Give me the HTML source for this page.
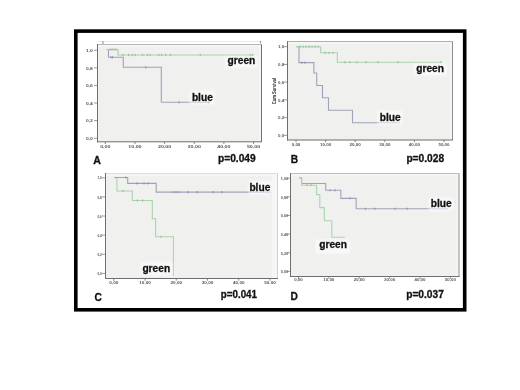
<!DOCTYPE html>
<html><head><meta charset="utf-8"><style>
html,body{margin:0;padding:0;background:#fff;}
svg{display:block;font-family:"Liberation Sans",sans-serif;will-change:transform;filter:blur(0.35px);}
</style></head><body>
<svg width="520" height="390" viewBox="0 0 520 390">
<defs><filter id="hb" x="-20%" y="-40%" width="140%" height="180%"><feGaussianBlur stdDeviation="1"/></filter></defs>
<rect width="520" height="390" fill="#fff"/>
<rect x="75.8" y="31.1" width="388.9" height="278.7" fill="#fff" stroke="#000" stroke-width="3.6"/>
<rect x="97.5" y="44.5" width="164.0" height="97.30000000000001" fill="#f0f0ef"/><rect x="97.5" y="44.5" width="164.0" height="2.5" fill="#f5f5f4"/><rect x="259.0" y="44.5" width="2.5" height="97.30000000000001" fill="#f5f5f4"/><line x1="97.5" y1="44.5" x2="261.5" y2="44.5" stroke="#b8b8b8" stroke-width="1"/><line x1="261.5" y1="44.5" x2="261.5" y2="141.8" stroke="#707070" stroke-width="1"/><line x1="97.5" y1="44.0" x2="97.5" y2="142.3" stroke="#6e6e6e" stroke-width="1"/><line x1="97.0" y1="141.8" x2="262.0" y2="141.8" stroke="#6e6e6e" stroke-width="1"/><line x1="94.0" y1="50.2" x2="97.5" y2="50.2" stroke="#6e6e6e" stroke-width="0.7"/><text transform="translate(92.9,52.04) scale(1,0.75)" font-size="5.0" font-weight="bold" text-anchor="end" fill="#555">1,0</text><line x1="94.0" y1="67.8" x2="97.5" y2="67.8" stroke="#6e6e6e" stroke-width="0.7"/><text transform="translate(92.9,69.64) scale(1,0.75)" font-size="5.0" font-weight="bold" text-anchor="end" fill="#555">0,8</text><line x1="94.0" y1="85.4" x2="97.5" y2="85.4" stroke="#6e6e6e" stroke-width="0.7"/><text transform="translate(92.9,87.24) scale(1,0.75)" font-size="5.0" font-weight="bold" text-anchor="end" fill="#555">0,6</text><line x1="94.0" y1="103.0" x2="97.5" y2="103.0" stroke="#6e6e6e" stroke-width="0.7"/><text transform="translate(92.9,104.84) scale(1,0.75)" font-size="5.0" font-weight="bold" text-anchor="end" fill="#555">0,4</text><line x1="94.0" y1="120.6" x2="97.5" y2="120.6" stroke="#6e6e6e" stroke-width="0.7"/><text transform="translate(92.9,122.44) scale(1,0.75)" font-size="5.0" font-weight="bold" text-anchor="end" fill="#555">0,2</text><line x1="94.0" y1="138.2" x2="97.5" y2="138.2" stroke="#6e6e6e" stroke-width="0.7"/><text transform="translate(92.9,140.04) scale(1,0.75)" font-size="5.0" font-weight="bold" text-anchor="end" fill="#555">0,0</text><line x1="105.3" y1="141.8" x2="105.3" y2="144.0" stroke="#6e6e6e" stroke-width="0.8"/><text transform="translate(105.3,148.23) scale(1,0.7)" font-size="5.3" font-weight="bold" text-anchor="middle" fill="#555">0,00</text><line x1="134.94" y1="141.8" x2="134.94" y2="144.0" stroke="#6e6e6e" stroke-width="0.8"/><text transform="translate(134.94,148.23) scale(1,0.7)" font-size="5.3" font-weight="bold" text-anchor="middle" fill="#555">10,00</text><line x1="164.58" y1="141.8" x2="164.58" y2="144.0" stroke="#6e6e6e" stroke-width="0.8"/><text transform="translate(164.58,148.23) scale(1,0.7)" font-size="5.3" font-weight="bold" text-anchor="middle" fill="#555">20,00</text><line x1="194.22" y1="141.8" x2="194.22" y2="144.0" stroke="#6e6e6e" stroke-width="0.8"/><text transform="translate(194.22,148.23) scale(1,0.7)" font-size="5.3" font-weight="bold" text-anchor="middle" fill="#555">30,00</text><line x1="223.86" y1="141.8" x2="223.86" y2="144.0" stroke="#6e6e6e" stroke-width="0.8"/><text transform="translate(223.86,148.23) scale(1,0.7)" font-size="5.3" font-weight="bold" text-anchor="middle" fill="#555">40,00</text><line x1="253.5" y1="141.8" x2="253.5" y2="144.0" stroke="#6e6e6e" stroke-width="0.8"/><text transform="translate(253.5,148.23) scale(1,0.7)" font-size="5.3" font-weight="bold" text-anchor="middle" fill="#555">50,00</text>
<line x1="97" y1="41.5" x2="261" y2="41.5" stroke="#ececec" stroke-width="1"/>
<line x1="103" y1="41" x2="103" y2="44" stroke="#6e6e6e" stroke-width="0.8"/><line x1="260.6" y1="41" x2="260.6" y2="43.5" stroke="#6e6e6e" stroke-width="0.8"/>
<polyline points="106,49.5 108.5,49.5 108.5,57.3 123.3,57.3 123.3,67.3 161.3,67.3 161.3,102.3 192,102.3" fill="none" stroke="#9ea3bb" stroke-width="1.1"/>
<polyline points="192,102.3 210,102.3" fill="none" stroke="#9ea3bb" stroke-width="1.1"/>
<polyline points="106,49.5 118,49.5 118,55 254,55" fill="none" stroke="#aad4ac" stroke-width="1.1"/>
<line x1="110" y1="48.4" x2="110" y2="50.6" stroke="#8cae90" stroke-width="0.8"/><line x1="112" y1="48.4" x2="112" y2="50.6" stroke="#8cae90" stroke-width="0.8"/><line x1="114" y1="48.4" x2="114" y2="50.6" stroke="#8cae90" stroke-width="0.8"/><line x1="116" y1="48.4" x2="116" y2="50.6" stroke="#8cae90" stroke-width="0.8"/>
<line x1="123" y1="53.9" x2="123" y2="56.1" stroke="#8cae90" stroke-width="0.8"/><line x1="128.8" y1="53.9" x2="128.8" y2="56.1" stroke="#8cae90" stroke-width="0.8"/><line x1="132.3" y1="53.9" x2="132.3" y2="56.1" stroke="#8cae90" stroke-width="0.8"/><line x1="135.2" y1="53.9" x2="135.2" y2="56.1" stroke="#8cae90" stroke-width="0.8"/><line x1="142.7" y1="53.9" x2="142.7" y2="56.1" stroke="#8cae90" stroke-width="0.8"/><line x1="147.3" y1="53.9" x2="147.3" y2="56.1" stroke="#8cae90" stroke-width="0.8"/><line x1="150.2" y1="53.9" x2="150.2" y2="56.1" stroke="#8cae90" stroke-width="0.8"/><line x1="158.8" y1="53.9" x2="158.8" y2="56.1" stroke="#8cae90" stroke-width="0.8"/><line x1="161.7" y1="53.9" x2="161.7" y2="56.1" stroke="#8cae90" stroke-width="0.8"/><line x1="165.7" y1="53.9" x2="165.7" y2="56.1" stroke="#8cae90" stroke-width="0.8"/><line x1="170.4" y1="53.9" x2="170.4" y2="56.1" stroke="#8cae90" stroke-width="0.8"/><line x1="200.3" y1="53.9" x2="200.3" y2="56.1" stroke="#8cae90" stroke-width="0.8"/><line x1="250.4" y1="53.9" x2="250.4" y2="56.1" stroke="#8cae90" stroke-width="0.8"/><line x1="252.7" y1="53.9" x2="252.7" y2="56.1" stroke="#8cae90" stroke-width="0.8"/>
<line x1="111" y1="56.199999999999996" x2="111" y2="58.4" stroke="#7a80a8" stroke-width="0.8"/><line x1="112.5" y1="56.199999999999996" x2="112.5" y2="58.4" stroke="#7a80a8" stroke-width="0.8"/>
<line x1="145.8" y1="66.2" x2="145.8" y2="68.39999999999999" stroke="#7a80a8" stroke-width="0.8"/>
<line x1="179" y1="101.2" x2="179" y2="103.39999999999999" stroke="#7a80a8" stroke-width="0.8"/><line x1="208.5" y1="101.2" x2="208.5" y2="103.39999999999999" stroke="#7a80a8" stroke-width="0.8"/>
<rect x="225" y="56.2" width="33" height="11.799999999999997" fill="#fff" fill-opacity="0.55" filter="url(#hb)"/>
<text x="227.6" y="64" font-size="10.2" font-weight="bold" fill="#111" stroke="#111" stroke-width="0.3">green</text>
<rect x="189.5" y="90" width="25.0" height="14.5" fill="#fff" fill-opacity="0.55" filter="url(#hb)"/>
<text x="191.9" y="101.1" font-size="10.2" font-weight="bold" fill="#111" stroke="#111" stroke-width="0.3">blue</text>
<text x="93.3" y="163.6" font-size="10.6" font-weight="bold" fill="#111" stroke="#111" stroke-width="0.3">A</text>
<text x="218" y="161.8" font-size="10.2" font-weight="bold" fill="#111" stroke="#111" stroke-width="0.3">p=0.049</text>
<rect x="287.5" y="41.5" width="165.0" height="98.5" fill="#f0f0ef"/><rect x="287.5" y="41.5" width="165.0" height="2.5" fill="#f5f5f4"/><rect x="450.0" y="41.5" width="2.5" height="98.5" fill="#f5f5f4"/><line x1="287.5" y1="41.5" x2="452.5" y2="41.5" stroke="#b0b0b0" stroke-width="1"/><line x1="452.5" y1="41.5" x2="452.5" y2="140" stroke="#8c8c8c" stroke-width="1"/><line x1="287.5" y1="41.0" x2="287.5" y2="140.5" stroke="#6e6e6e" stroke-width="1"/><line x1="287.0" y1="140" x2="453.0" y2="140" stroke="#6e6e6e" stroke-width="1"/><line x1="284.0" y1="46.7" x2="287.5" y2="46.7" stroke="#6e6e6e" stroke-width="0.7"/><text transform="translate(284.2,48.46) scale(1,0.8)" font-size="4.4" font-weight="bold" text-anchor="end" fill="#555">1,0</text><line x1="284.0" y1="64.42" x2="287.5" y2="64.42" stroke="#6e6e6e" stroke-width="0.7"/><text transform="translate(284.2,66.18) scale(1,0.8)" font-size="4.4" font-weight="bold" text-anchor="end" fill="#555">0,8</text><line x1="284.0" y1="82.14" x2="287.5" y2="82.14" stroke="#6e6e6e" stroke-width="0.7"/><text transform="translate(284.2,83.9) scale(1,0.8)" font-size="4.4" font-weight="bold" text-anchor="end" fill="#555">0,6</text><line x1="284.0" y1="99.86" x2="287.5" y2="99.86" stroke="#6e6e6e" stroke-width="0.7"/><text transform="translate(284.2,101.62) scale(1,0.8)" font-size="4.4" font-weight="bold" text-anchor="end" fill="#555">0,4</text><line x1="284.0" y1="117.58" x2="287.5" y2="117.58" stroke="#6e6e6e" stroke-width="0.7"/><text transform="translate(284.2,119.34) scale(1,0.8)" font-size="4.4" font-weight="bold" text-anchor="end" fill="#555">0,2</text><line x1="284.0" y1="135.3" x2="287.5" y2="135.3" stroke="#6e6e6e" stroke-width="0.7"/><text transform="translate(284.2,137.06) scale(1,0.8)" font-size="4.4" font-weight="bold" text-anchor="end" fill="#555">0,0</text><line x1="296.0" y1="140" x2="296.0" y2="142.2" stroke="#6e6e6e" stroke-width="0.8"/><text transform="translate(296.0,145.61) scale(1,0.78)" font-size="4.5" font-weight="bold" text-anchor="middle" fill="#555">0,00</text><line x1="325.6" y1="140" x2="325.6" y2="142.2" stroke="#6e6e6e" stroke-width="0.8"/><text transform="translate(325.6,145.61) scale(1,0.78)" font-size="4.5" font-weight="bold" text-anchor="middle" fill="#555">10,00</text><line x1="355.2" y1="140" x2="355.2" y2="142.2" stroke="#6e6e6e" stroke-width="0.8"/><text transform="translate(355.2,145.61) scale(1,0.78)" font-size="4.5" font-weight="bold" text-anchor="middle" fill="#555">20,00</text><line x1="384.8" y1="140" x2="384.8" y2="142.2" stroke="#6e6e6e" stroke-width="0.8"/><text transform="translate(384.8,145.61) scale(1,0.78)" font-size="4.5" font-weight="bold" text-anchor="middle" fill="#555">30,00</text><line x1="414.4" y1="140" x2="414.4" y2="142.2" stroke="#6e6e6e" stroke-width="0.8"/><text transform="translate(414.4,145.61) scale(1,0.78)" font-size="4.5" font-weight="bold" text-anchor="middle" fill="#555">40,00</text><line x1="444.0" y1="140" x2="444.0" y2="142.2" stroke="#6e6e6e" stroke-width="0.8"/><text transform="translate(444.0,145.61) scale(1,0.78)" font-size="4.5" font-weight="bold" text-anchor="middle" fill="#555">50,00</text>
<polyline points="296.4,46.7 299,46.7 299,62.6 313.9,62.6 313.9,73 316.7,73 316.7,85.5 322.5,85.5 322.5,97.7 328.5,97.7 328.5,110.2 352.5,110.2 352.5,122.7 400,122.7" fill="none" stroke="#9ea3bb" stroke-width="1.1"/>
<polyline points="296.4,46.7 320.7,46.7 320.7,52.8 337.3,52.8 337.3,62.2 441.8,62.2" fill="none" stroke="#aad4ac" stroke-width="1.1"/>
<line x1="300" y1="45.6" x2="300" y2="47.800000000000004" stroke="#8cae90" stroke-width="0.8"/><line x1="303" y1="45.6" x2="303" y2="47.800000000000004" stroke="#8cae90" stroke-width="0.8"/><line x1="306" y1="45.6" x2="306" y2="47.800000000000004" stroke="#8cae90" stroke-width="0.8"/><line x1="309" y1="45.6" x2="309" y2="47.800000000000004" stroke="#8cae90" stroke-width="0.8"/><line x1="312" y1="45.6" x2="312" y2="47.800000000000004" stroke="#8cae90" stroke-width="0.8"/><line x1="315" y1="45.6" x2="315" y2="47.800000000000004" stroke="#8cae90" stroke-width="0.8"/><line x1="318" y1="45.6" x2="318" y2="47.800000000000004" stroke="#8cae90" stroke-width="0.8"/>
<line x1="325" y1="51.699999999999996" x2="325" y2="53.9" stroke="#8cae90" stroke-width="0.8"/><line x1="329" y1="51.699999999999996" x2="329" y2="53.9" stroke="#8cae90" stroke-width="0.8"/><line x1="333" y1="51.699999999999996" x2="333" y2="53.9" stroke="#8cae90" stroke-width="0.8"/>
<line x1="345" y1="61.1" x2="345" y2="63.300000000000004" stroke="#8cae90" stroke-width="0.8"/><line x1="350" y1="61.1" x2="350" y2="63.300000000000004" stroke="#8cae90" stroke-width="0.8"/><line x1="357" y1="61.1" x2="357" y2="63.300000000000004" stroke="#8cae90" stroke-width="0.8"/><line x1="366" y1="61.1" x2="366" y2="63.300000000000004" stroke="#8cae90" stroke-width="0.8"/><line x1="378" y1="61.1" x2="378" y2="63.300000000000004" stroke="#8cae90" stroke-width="0.8"/><line x1="398" y1="61.1" x2="398" y2="63.300000000000004" stroke="#8cae90" stroke-width="0.8"/><line x1="441" y1="61.1" x2="441" y2="63.300000000000004" stroke="#8cae90" stroke-width="0.8"/>
<line x1="302" y1="61.5" x2="302" y2="63.7" stroke="#7a80a8" stroke-width="0.8"/><line x1="305" y1="61.5" x2="305" y2="63.7" stroke="#7a80a8" stroke-width="0.8"/>
<rect x="413.5" y="63.5" width="33.5" height="12.0" fill="#fff" fill-opacity="0.55" filter="url(#hb)"/>
<text x="416.2" y="71.5" font-size="10.2" font-weight="bold" fill="#111" stroke="#111" stroke-width="0.3">green</text>
<rect x="377.5" y="110.5" width="25.0" height="14.5" fill="#fff" fill-opacity="0.55" filter="url(#hb)"/>
<text x="379.8" y="120.8" font-size="10.2" font-weight="bold" fill="#111" stroke="#111" stroke-width="0.3">blue</text>
<text x="290.8" y="163" font-size="10.2" font-weight="bold" fill="#111" stroke="#111" stroke-width="0.3">B</text>
<text x="406.4" y="162.0" font-size="10.2" font-weight="bold" fill="#111" stroke="#111" stroke-width="0.3">p=0.028</text>
<text transform="translate(275.9,91.1) rotate(-90)" font-size="5" font-weight="bold" text-anchor="middle" fill="#222" textLength="26.5" lengthAdjust="spacingAndGlyphs">Cum Survival</text>
<rect x="272" y="174" width="5" height="104" fill="#f6f6f5"/>
<rect x="105.5" y="173.5" width="172.0" height="105.0" fill="#f0f0ef"/><rect x="105.5" y="173.5" width="172.0" height="2.5" fill="#f5f5f4"/><rect x="275.0" y="173.5" width="2.5" height="105.0" fill="#f5f5f4"/><line x1="105.5" y1="173.5" x2="277.5" y2="173.5" stroke="#dedede" stroke-width="1"/><line x1="277.5" y1="173.5" x2="277.5" y2="278.5" stroke="#d0d0d0" stroke-width="1"/><line x1="105.5" y1="173.0" x2="105.5" y2="279.0" stroke="#6e6e6e" stroke-width="1"/><line x1="105.0" y1="278.5" x2="278.0" y2="278.5" stroke="#6e6e6e" stroke-width="1"/><line x1="102.0" y1="177.8" x2="105.5" y2="177.8" stroke="#6e6e6e" stroke-width="0.7"/><text transform="translate(101.9,179.45) scale(1,1.0)" font-size="3.2" font-weight="bold" text-anchor="end" fill="#555">1,0</text><line x1="102.0" y1="196.92" x2="105.5" y2="196.92" stroke="#6e6e6e" stroke-width="0.7"/><text transform="translate(101.9,198.57) scale(1,1.0)" font-size="3.2" font-weight="bold" text-anchor="end" fill="#555">0,8</text><line x1="102.0" y1="216.04" x2="105.5" y2="216.04" stroke="#6e6e6e" stroke-width="0.7"/><text transform="translate(101.9,217.69) scale(1,1.0)" font-size="3.2" font-weight="bold" text-anchor="end" fill="#555">0,6</text><line x1="102.0" y1="235.16" x2="105.5" y2="235.16" stroke="#6e6e6e" stroke-width="0.7"/><text transform="translate(101.9,236.81) scale(1,1.0)" font-size="3.2" font-weight="bold" text-anchor="end" fill="#555">0,4</text><line x1="102.0" y1="254.28" x2="105.5" y2="254.28" stroke="#6e6e6e" stroke-width="0.7"/><text transform="translate(101.9,255.93) scale(1,1.0)" font-size="3.2" font-weight="bold" text-anchor="end" fill="#555">0,2</text><line x1="102.0" y1="273.4" x2="105.5" y2="273.4" stroke="#6e6e6e" stroke-width="0.7"/><text transform="translate(101.9,275.05) scale(1,1.0)" font-size="3.2" font-weight="bold" text-anchor="end" fill="#555">0,0</text><line x1="113.8" y1="278.5" x2="113.8" y2="280.7" stroke="#6e6e6e" stroke-width="0.8"/><text transform="translate(113.8,284.25) scale(1,0.76)" font-size="4.6" font-weight="bold" text-anchor="middle" fill="#555">0,00</text><line x1="145.04" y1="278.5" x2="145.04" y2="280.7" stroke="#6e6e6e" stroke-width="0.8"/><text transform="translate(145.04,284.25) scale(1,0.76)" font-size="4.6" font-weight="bold" text-anchor="middle" fill="#555">10,00</text><line x1="176.28" y1="278.5" x2="176.28" y2="280.7" stroke="#6e6e6e" stroke-width="0.8"/><text transform="translate(176.28,284.25) scale(1,0.76)" font-size="4.6" font-weight="bold" text-anchor="middle" fill="#555">20,00</text><line x1="207.52" y1="278.5" x2="207.52" y2="280.7" stroke="#6e6e6e" stroke-width="0.8"/><text transform="translate(207.52,284.25) scale(1,0.76)" font-size="4.6" font-weight="bold" text-anchor="middle" fill="#555">30,00</text><line x1="238.76" y1="278.5" x2="238.76" y2="280.7" stroke="#6e6e6e" stroke-width="0.8"/><text transform="translate(238.76,284.25) scale(1,0.76)" font-size="4.6" font-weight="bold" text-anchor="middle" fill="#555">40,00</text><line x1="270.0" y1="278.5" x2="270.0" y2="280.7" stroke="#6e6e6e" stroke-width="0.8"/><text transform="translate(270.0,284.25) scale(1,0.76)" font-size="4.6" font-weight="bold" text-anchor="middle" fill="#555">50,00</text>
<rect x="272" y="174.5" width="5" height="103.3" fill="#f6f6f5"/>
<polyline points="114.1,177.5 116.9,177.5 116.9,191 132.3,191 132.3,200.5 152.3,200.5 152.3,218.7 155.6,218.7 155.6,236.8 173.4,236.8 173.4,276" fill="none" stroke="#aad4ac" stroke-width="1.1"/>
<polyline points="114.1,177.5 127.7,177.5 127.7,183.4 156.2,183.4 156.2,192.1 270.8,192.1" fill="none" stroke="#9ea3bb" stroke-width="1.1"/>
<line x1="125.8" y1="176.4" x2="125.8" y2="178.6" stroke="#7a80a8" stroke-width="0.8"/>
<line x1="137" y1="182.3" x2="137" y2="184.5" stroke="#7a80a8" stroke-width="0.8"/><line x1="144" y1="182.3" x2="144" y2="184.5" stroke="#7a80a8" stroke-width="0.8"/><line x1="148" y1="182.3" x2="148" y2="184.5" stroke="#7a80a8" stroke-width="0.8"/>
<line x1="173" y1="191.0" x2="173" y2="193.2" stroke="#7a80a8" stroke-width="0.8"/><line x1="176" y1="191.0" x2="176" y2="193.2" stroke="#7a80a8" stroke-width="0.8"/><line x1="179" y1="191.0" x2="179" y2="193.2" stroke="#7a80a8" stroke-width="0.8"/><line x1="188" y1="191.0" x2="188" y2="193.2" stroke="#7a80a8" stroke-width="0.8"/><line x1="197" y1="191.0" x2="197" y2="193.2" stroke="#7a80a8" stroke-width="0.8"/><line x1="213" y1="191.0" x2="213" y2="193.2" stroke="#7a80a8" stroke-width="0.8"/><line x1="222" y1="191.0" x2="222" y2="193.2" stroke="#7a80a8" stroke-width="0.8"/>
<line x1="123" y1="189.9" x2="123" y2="192.1" stroke="#8cae90" stroke-width="0.8"/>
<line x1="137.2" y1="199.4" x2="137.2" y2="201.6" stroke="#8cae90" stroke-width="0.8"/><line x1="142.6" y1="199.4" x2="142.6" y2="201.6" stroke="#8cae90" stroke-width="0.8"/>
<line x1="161" y1="235.70000000000002" x2="161" y2="237.9" stroke="#8cae90" stroke-width="0.8"/>
<rect x="248.5" y="181" width="23.0" height="13.5" fill="#fff" fill-opacity="0.55" filter="url(#hb)"/>
<text x="249.4" y="190.8" font-size="10.2" font-weight="bold" fill="#111" stroke="#111" stroke-width="0.3">blue</text>
<rect x="140" y="262" width="32.599999999999994" height="13.5" fill="#fff" fill-opacity="0.55" filter="url(#hb)"/>
<text x="142.4" y="271.5" font-size="10.2" font-weight="bold" fill="#111" stroke="#111" stroke-width="0.3">green</text>
<text x="94.4" y="300.8" font-size="10.2" font-weight="bold" fill="#111" stroke="#111" stroke-width="0.3">C</text>
<text x="220.8" y="297.6" font-size="10.2" font-weight="bold" fill="#111" stroke="#111" stroke-width="0.3" textLength="36.2" lengthAdjust="spacingAndGlyphs">p=0.041</text>
<rect x="290.5" y="173.5" width="168.5" height="103.0" fill="#f0f0ef"/><rect x="290.5" y="173.5" width="168.5" height="2.5" fill="#f5f5f4"/><rect x="456.5" y="173.5" width="2.5" height="103.0" fill="#f5f5f4"/><line x1="290.5" y1="173.5" x2="459" y2="173.5" stroke="#c0c0c0" stroke-width="1"/><line x1="459" y1="173.5" x2="459" y2="276.5" stroke="#b0b0b0" stroke-width="1.5"/><line x1="290.5" y1="173.0" x2="290.5" y2="277.0" stroke="#6e6e6e" stroke-width="1"/><line x1="290.0" y1="276.5" x2="459.5" y2="276.5" stroke="#6e6e6e" stroke-width="1"/><line x1="287.0" y1="178.2" x2="290.5" y2="178.2" stroke="#6e6e6e" stroke-width="0.7"/><text transform="translate(288.0,180.02) scale(1,1.0)" font-size="3.7" font-weight="bold" text-anchor="end" fill="#555">1,00</text><line x1="287.0" y1="196.84" x2="290.5" y2="196.84" stroke="#6e6e6e" stroke-width="0.7"/><text transform="translate(288.0,198.66) scale(1,1.0)" font-size="3.7" font-weight="bold" text-anchor="end" fill="#555">0,80</text><line x1="287.0" y1="215.48" x2="290.5" y2="215.48" stroke="#6e6e6e" stroke-width="0.7"/><text transform="translate(288.0,217.3) scale(1,1.0)" font-size="3.7" font-weight="bold" text-anchor="end" fill="#555">0,60</text><line x1="287.0" y1="234.12" x2="290.5" y2="234.12" stroke="#6e6e6e" stroke-width="0.7"/><text transform="translate(288.0,235.94) scale(1,1.0)" font-size="3.7" font-weight="bold" text-anchor="end" fill="#555">0,40</text><line x1="287.0" y1="252.76" x2="290.5" y2="252.76" stroke="#6e6e6e" stroke-width="0.7"/><text transform="translate(288.0,254.58) scale(1,1.0)" font-size="3.7" font-weight="bold" text-anchor="end" fill="#555">0,20</text><line x1="287.0" y1="271.4" x2="290.5" y2="271.4" stroke="#6e6e6e" stroke-width="0.7"/><text transform="translate(288.0,273.22) scale(1,1.0)" font-size="3.7" font-weight="bold" text-anchor="end" fill="#555">0,00</text><line x1="298.4" y1="276.5" x2="298.4" y2="278.7" stroke="#6e6e6e" stroke-width="0.8"/><text transform="translate(298.4,281.16) scale(1,0.8)" font-size="4.4" font-weight="bold" text-anchor="middle" fill="#555">0,00</text><line x1="328.8" y1="276.5" x2="328.8" y2="278.7" stroke="#6e6e6e" stroke-width="0.8"/><text transform="translate(328.8,281.16) scale(1,0.8)" font-size="4.4" font-weight="bold" text-anchor="middle" fill="#555">10,00</text><line x1="359.2" y1="276.5" x2="359.2" y2="278.7" stroke="#6e6e6e" stroke-width="0.8"/><text transform="translate(359.2,281.16) scale(1,0.8)" font-size="4.4" font-weight="bold" text-anchor="middle" fill="#555">20,00</text><line x1="389.6" y1="276.5" x2="389.6" y2="278.7" stroke="#6e6e6e" stroke-width="0.8"/><text transform="translate(389.6,281.16) scale(1,0.8)" font-size="4.4" font-weight="bold" text-anchor="middle" fill="#555">30,00</text><line x1="420.0" y1="276.5" x2="420.0" y2="278.7" stroke="#6e6e6e" stroke-width="0.8"/><text transform="translate(420.0,281.16) scale(1,0.8)" font-size="4.4" font-weight="bold" text-anchor="middle" fill="#555">40,00</text><line x1="450.4" y1="276.5" x2="450.4" y2="278.7" stroke="#6e6e6e" stroke-width="0.8"/><text transform="translate(450.4,281.16) scale(1,0.8)" font-size="4.4" font-weight="bold" text-anchor="middle" fill="#555">50,00</text>
<polyline points="299.2,178 301.6,178 301.6,183.5 325.7,183.5 325.7,190.3 340.9,190.3 340.9,198.4 356.2,198.4 356.2,208.8 447.7,208.8" fill="none" stroke="#9ea3bb" stroke-width="1.1"/>
<polyline points="299.2,178 301.6,178 301.6,185.2 316.6,185.2 316.6,194.6 319.8,194.6 319.8,207.6 324.3,207.6 324.3,220.8 331.8,220.8 331.8,237.3 345,237.3" fill="none" stroke="#aad4ac" stroke-width="1.1"/>
<line x1="330" y1="189.20000000000002" x2="330" y2="191.4" stroke="#7a80a8" stroke-width="0.8"/><line x1="335" y1="189.20000000000002" x2="335" y2="191.4" stroke="#7a80a8" stroke-width="0.8"/>
<line x1="350" y1="197.20000000000002" x2="350" y2="199.4" stroke="#7a80a8" stroke-width="0.8"/>
<line x1="365.3" y1="207.70000000000002" x2="365.3" y2="209.9" stroke="#7a80a8" stroke-width="0.8"/><line x1="374.8" y1="207.70000000000002" x2="374.8" y2="209.9" stroke="#7a80a8" stroke-width="0.8"/><line x1="395" y1="207.70000000000002" x2="395" y2="209.9" stroke="#7a80a8" stroke-width="0.8"/><line x1="407" y1="207.70000000000002" x2="407" y2="209.9" stroke="#7a80a8" stroke-width="0.8"/>
<line x1="307" y1="183.9" x2="307" y2="186.1" stroke="#8cae90" stroke-width="0.8"/><line x1="311" y1="183.9" x2="311" y2="186.1" stroke="#8cae90" stroke-width="0.8"/>
<rect x="428.5" y="197.5" width="24.5" height="13.5" fill="#fff" fill-opacity="0.55" filter="url(#hb)"/>
<text x="430.8" y="207.2" font-size="10.2" font-weight="bold" fill="#111" stroke="#111" stroke-width="0.3">blue</text>
<rect x="315.5" y="239.5" width="34.5" height="14.0" fill="#fff" fill-opacity="0.55" filter="url(#hb)"/>
<text x="319.2" y="248.4" font-size="10.2" font-weight="bold" fill="#111" stroke="#111" stroke-width="0.3">green</text>
<text x="290.6" y="300.4" font-size="10.2" font-weight="bold" fill="#111" stroke="#111" stroke-width="0.3">D</text>
<text x="406.2" y="297.6" font-size="10.2" font-weight="bold" fill="#111" stroke="#111" stroke-width="0.3">p=0.037</text>
</svg>
</body></html>
